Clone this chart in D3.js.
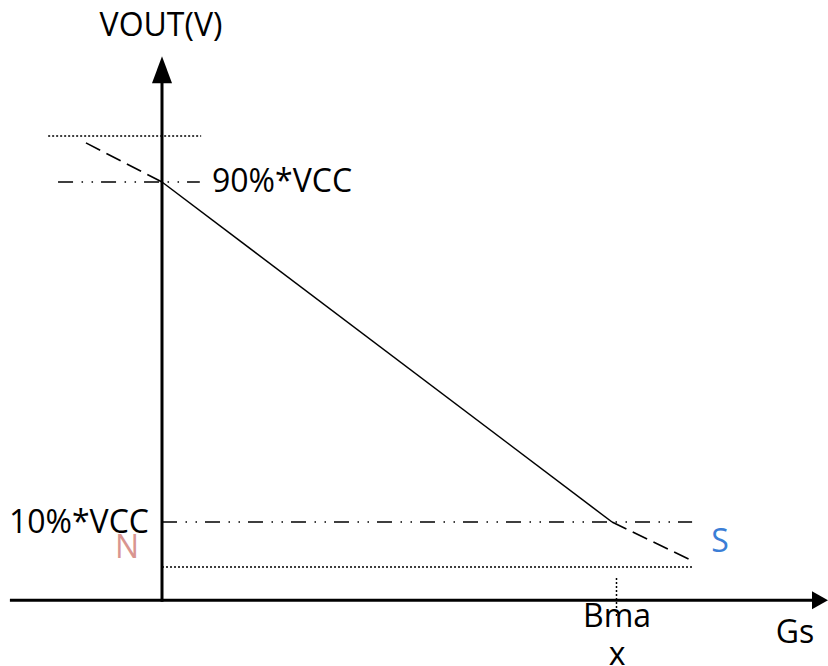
<!DOCTYPE html>
<html><head><meta charset="utf-8">
<script src="https://cdn.jsdelivr.net/npm/d3@7"></script>
<style>body{margin:0;background:#fff}svg{display:block}</style>
</head><body>
<svg id="c" width="828" height="666"></svg>
<script>
// Data (x in % of Bmax, y in % of VCC)
const outputLine = [[0, 90], [100, 10]];
const dashTop = [[-16.9, 99.2], [0, 90]];
const dashBottom = [[100, 10], [118, 0.8]];
const refVcc = [[-25.3, 100.8], [8.7, 100.8]];
const refGnd = [[0, -0.6], [117.8, -0.6]];
const level90 = [[-23.1, 90], [8.4, 90]];
const level10 = [[0, 10], [117.8, 10]];
const bmaxMark = [[101, -3.2], [101, -12.4]];
const levelLabels = ["90%*VCC", "10%*VCC"];
const axisLabels = ["VOUT(V)", "Gs"];
const poleLabels = ["N", "S"];
const bmaxLabel = ["Bma", "x"];

const svg = d3.select("#c");
const x = d3.scaleLinear().domain([0, 100]).range([162, 612]);
const y = d3.scaleLinear().domain([10, 90]).range([522, 182]);
const line = d3.line().x(d => x(d[0])).y(d => y(d[1]));
const font = "'Open Sans', 'Noto Sans', sans-serif";

function path(data, w, dash) {
  svg.append("path").attr("d", line(data)).attr("fill", "none")
    .attr("stroke", "#000").attr("stroke-width", w)
    .attr("stroke-dasharray", dash || null);
}
path(refVcc, 1.5, "2,2");
path(refGnd, 1.5, "2,2");
path(level90, 1.5, "15,8.5,1.5,8.5,1.5,8");
path(level10, 1.5, "15,8.5,1.5,8.5,1.5,8");
path(dashTop, 1.6, "16,7");
path(dashBottom, 1.6, "16,7");
path(outputLine, 1.5);
path(bmaxMark, 1.5, "2,2");

// axes
const y0 = y(-8.4);
const xMin = x(-33.8), xMax = x(148);
const yTop = y(119.6);
svg.append("line").attr("x1", xMin).attr("x2", xMax - 16).attr("y1", y0).attr("y2", y0)
  .attr("stroke", "#000").attr("stroke-width", 3);
svg.append("path").attr("d", `M${xMax},${y0} L${xMax - 16},${y0 - 9} L${xMax - 16},${y0 + 9} Z`).attr("fill", "#000");
svg.append("line").attr("x1", x(0)).attr("x2", x(0)).attr("y1", y0 + 1.5).attr("y2", yTop + 25)
  .attr("stroke", "#000").attr("stroke-width", 3);
svg.append("path").attr("d", `M${x(0)},${yTop} L${x(0) - 10},${yTop + 27} L${x(0) + 10},${yTop + 27} Z`).attr("fill", "#000");

function text(str, px, py, anchor, color) {
  svg.append("text").attr("x", px).attr("y", py).attr("text-anchor", anchor || "start")
    .attr("font-family", font).attr("font-size", 32).attr("fill", color || "#000").text(str);
}
text(axisLabels[0], 161, 36, "middle");
text(axisLabels[1], 795, 643, "middle");
text(levelLabels[0], 212, 192);
text(levelLabels[1], 149, 533, "end");
text(poleLabels[0], 127, 558, "middle", "#d99590");
text(poleLabels[1], 720, 552, "middle", "#3b7ed6");
text(bmaxLabel[0], 617, 627, "middle");
text(bmaxLabel[1], 617, 665, "middle");
</script>
</body></html>
